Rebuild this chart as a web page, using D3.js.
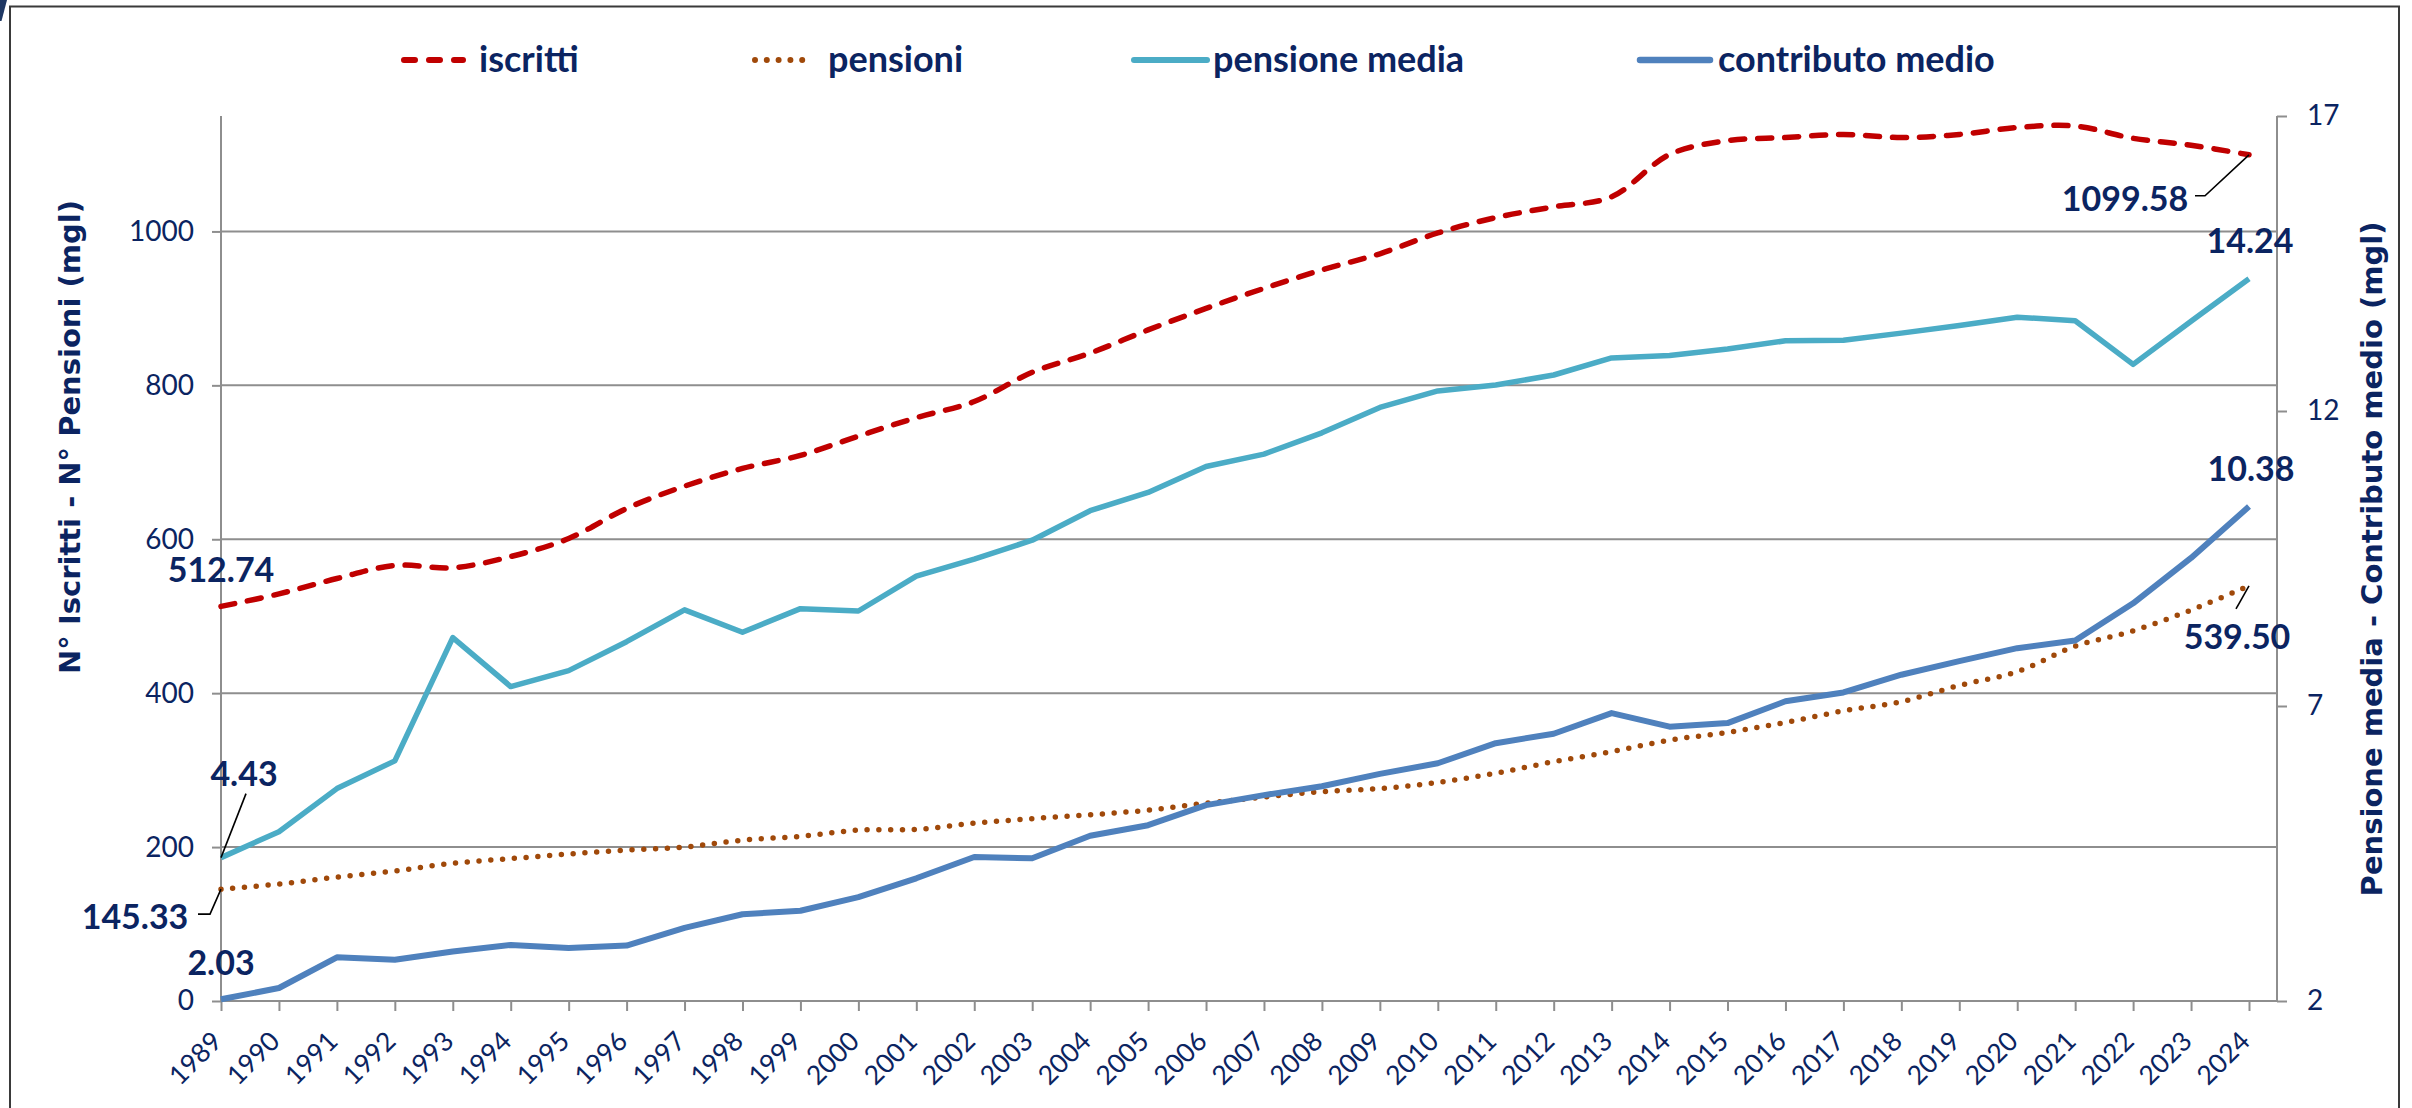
<!DOCTYPE html>
<html><head><meta charset="utf-8">
<script src="https://cdn.jsdelivr.net/npm/d3@7"></script>
<style>html,body{margin:0;padding:0;background:#fff;overflow:hidden}</style>
</head><body>
<script>
const years = d3.range(1989, 2025);
const iscritti = [512.74,529,549,566,563,577.5,601,640,669,692,709,734,758,779,817,842,872,900,926,950,971,998,1018,1032,1045,1100,1118,1122,1126,1122,1126,1135,1137,1121,1112,1099.58];
const pensioni = [145.33,152,161,169,179,185,191,196,200,209,214,222,223,231,237,242,248,257,265,272,276,284,296,311,324,339,349,362,377,389,410,428,461,481,508,539.50];
const pensioneMedia = [4.43,4.87,5.60,6.07,8.16,7.33,7.60,8.09,8.63,8.25,8.65,8.61,9.20,9.49,9.81,10.31,10.62,11.06,11.27,11.63,12.06,12.34,12.44,12.61,12.90,12.94,13.05,13.19,13.20,13.32,13.45,13.59,13.53,12.79,13.52,14.24];
const contributoMedio = [2.03,2.22,2.74,2.70,2.84,2.95,2.90,2.94,3.24,3.47,3.53,3.76,4.08,4.44,4.42,4.80,4.98,5.32,5.49,5.64,5.85,6.03,6.37,6.53,6.88,6.65,6.71,7.08,7.23,7.53,7.76,7.98,8.11,8.74,9.51,10.38];
const leftTicks = [0,200,400,600,800,1000];
const rightTicks = [2,7,12,17];
const legendLabels = ["iscritti","pensioni","pensione media","contributo medio"];
const leftTitle = "N° Iscritti - N° Pensioni (mgl)";
const rightTitle = "Pensione media - Contributo medio (mgl)";

const W = 2412, H = 1108;
const TXT = "#0B2461";
const svg = d3.select("body").append("svg").attr("width", W).attr("height", H)
  .style("font-family", "Lato, sans-serif");
svg.append("rect").attr("width", W).attr("height", H).attr("fill", "#fff");
// frame
svg.append("rect").attr("x", 10).attr("y", 6.5).attr("width", 2389).attr("height", 1120)
  .attr("fill", "none").attr("stroke", "#3a3a3a").attr("stroke-width", 2);
svg.append("polygon").attr("points", "0,0 7,0 1.5,21 0,21").attr("fill", "#1F3864");

const xL = 221, xR = 2277, yB = 1001, yT = 116;
const x = d3.scalePoint().domain(years).range([221, 2249]);
const yL = d3.scaleLinear().domain([0, 1150]).range([yB, yT]);
const yR = d3.scaleLinear().domain([2, 17]).range([yB, yT]);

// gridlines
svg.append("g").selectAll("line").data(leftTicks.filter(d => d > 0)).join("line")
  .attr("x1", xL).attr("x2", xR).attr("y1", d => yL(d)).attr("y2", d => yL(d))
  .attr("stroke", "#8e8e8e").attr("stroke-width", 2);

// axes
function styleAxis(g) {
  g.select(".domain").remove();
  g.selectAll(".tick line").attr("stroke", "#8e8e8e").attr("stroke-width", 2);
  g.selectAll(".tick text").attr("fill", TXT).style("font-size", "28px").style("font-family", "Lato, sans-serif");
}
const gL = svg.append("g").attr("transform", `translate(${xL},0)`)
  .call(d3.axisLeft(yL).tickValues(leftTicks).tickSize(9).tickPadding(18).tickFormat(d3.format("d")));
styleAxis(gL);
const gR = svg.append("g").attr("transform", `translate(${xR},0)`)
  .call(d3.axisRight(yR).tickValues(rightTicks).tickSize(10).tickPadding(20).tickFormat(d3.format("d")));
styleAxis(gR);
const gX = svg.append("g").attr("transform", `translate(0,${yB})`)
  .call(d3.axisBottom(x).tickSize(10).tickFormat(d3.format("d")));
styleAxis(gX);
gX.selectAll(".tick text").style("font-size", "26.5px")
  .attr("text-anchor", "end").attr("dy", null).attr("y", 0)
  .attr("transform", "translate(2,42) rotate(-45)");

[[xL, yT, xL, yB], [xR, yT, xR, yB], [xL, yB, xR, yB]].forEach(p =>
  svg.append("line").attr("x1", p[0]).attr("y1", p[1]).attr("x2", p[2]).attr("y2", p[3])
    .attr("stroke", "#8e8e8e").attr("stroke-width", 2));

// axis titles
svg.append("text").attr("transform", `translate(70,437) rotate(-90)`)
  .attr("text-anchor", "middle").attr("dominant-baseline", "central")
  .style("font-family", "'DejaVu Sans', sans-serif").style("font-weight", "bold").style("font-size", "29px")
  .attr("fill", TXT).text(leftTitle);
svg.append("text").attr("transform", `translate(2372,559) rotate(-90)`)
  .attr("text-anchor", "middle").attr("dominant-baseline", "central")
  .style("font-family", "'DejaVu Sans', sans-serif").style("font-weight", "bold").style("font-size", "29px")
  .attr("fill", TXT).text(rightTitle);

// series
const series = [
  {name: legendLabels[0], data: iscritti, y: yL, color: "#C00000", width: 5.5, dash: "14,13", cap: "round", curve: d3.curveCatmullRom},
  {name: legendLabels[1], data: pensioni, y: yL, color: "#A0490A", width: 5.5, dash: "0,11.8", cap: "round", curve: d3.curveCatmullRom},
  {name: legendLabels[2], data: pensioneMedia, y: yR, color: "#4BACC6", width: 5.5, dash: null, cap: "butt", curve: d3.curveLinear},
  {name: legendLabels[3], data: contributoMedio, y: yR, color: "#4F81BD", width: 6, dash: null, cap: "butt", curve: d3.curveLinear}
];
[series[1], series[0], series[3], series[2]].forEach(s => {
  const line = d3.line().x((d, i) => x(years[i])).y(d => s.y(d)).curve(s.curve);
  svg.append("path").datum(s.data).attr("d", line).attr("fill", "none")
    .attr("stroke", s.color).attr("stroke-width", s.width)
    .attr("stroke-dasharray", s.dash).attr("stroke-linecap", s.cap).attr("stroke-linejoin", "round");
});

// legend
const legendPos = [[401, 466, 479], [752, 813, 828], [1134, 1207, 1213], [1640, 1710, 1718]];
series.forEach((s, i) => {
  const p = legendPos[i];
  svg.append("line").attr("x1", p[0] + (s.dash ? 3 : 0)).attr("x2", p[1] - (s.dash ? 3 : 0)).attr("y1", 60).attr("y2", 60)
    .attr("stroke", s.color).attr("stroke-width", s.width + 0.5)
    .attr("stroke-dasharray", s.name === "iscritti" ? "11,14" : s.dash).attr("stroke-linecap", "round");
  svg.append("text").attr("x", p[2]).attr("y", 72).attr("fill", TXT)
    .style("font-weight", "bold").style("font-size", "36px").text(s.name);
});

// data labels
const fmt = d3.format(".2f");
const first = 0, last = years.length - 1;
function label(s, idx, dx, dy, weight, leader) {
  const px = x(years[idx]), py = s.y(s.data[idx]);
  svg.append("text").attr("x", px + dx).attr("y", py + dy + 12).attr("text-anchor", "middle")
    .attr("fill", TXT).style("font-size", "34px").style("font-weight", weight).text(fmt(s.data[idx]));
  if (leader) {
    const pts = [[px, py]].concat(leader.map(o => [px + o[0], py + o[1]]));
    svg.append("path").attr("d", d3.line()(pts)).attr("fill", "none").attr("stroke", "#000").attr("stroke-width", 1.6);
  }
}
label(series[0], first, 0, -36, "bold");
label(series[2], first, 23, -84, "bold", [[25, -64]]);
label(series[1], first, -86, 28, "bold", [[-11, 25], [-23, 25]]);
label(series[3], first, 0, -36, "bold");
label(series[0], last, -124, 44, "bold", [[-44, 41], [-54, 41]]);
label(series[2], last, 1, -38, "bold");
label(series[3], last, 2, -38, "bold");
label(series[1], last, -12, 51, "bold", [[-13, 23]]);
</script>
</body></html>
